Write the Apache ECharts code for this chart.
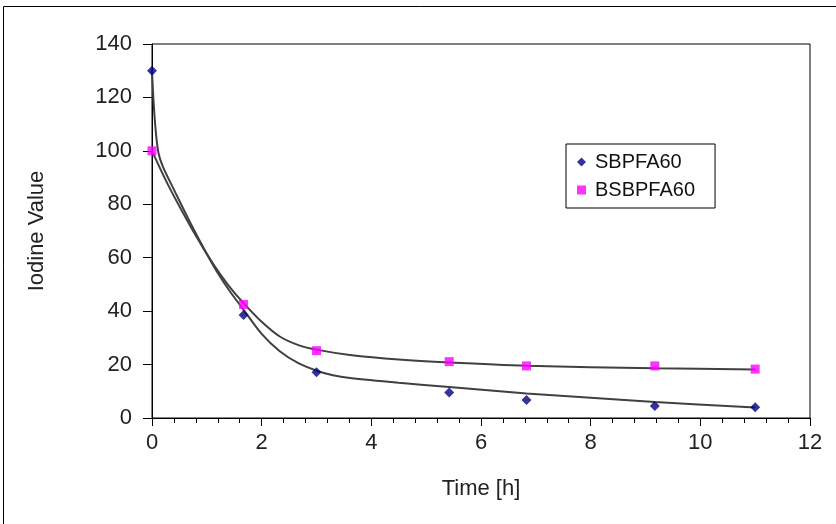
<!DOCTYPE html>
<html>
<head>
<meta charset="utf-8">
<script src="https://cdn.jsdelivr.net/npm/echarts@6/dist/echarts.min.js"></script>
<style>
  html, body { margin: 0; padding: 0; background: #fff; }
  #chart { width: 836px; height: 524px; }
</style>
</head>
<body>
<div id="chart"></div>
<script>
// Measured samples (time in hours)
const timeH = [0, 1.67, 3, 5.42, 6.83, 9.17, 11];
const sbpfa60 = [130, 38.6, 17.1, 9.5, 6.7, 4.5, 4.0];
const bsbpfa60 = [100, 42.5, 25.2, 21.1, 19.5, 19.5, 18.3];

// Trend curves drawn through the samples
const sbTrendTime = [0, 0.03, 0.07, 0.12, 0.2, 0.4, 0.75, 1.12, 1.4, 1.67, 2.0, 2.33, 2.67, 3.03, 3.3, 3.61, 4.5, 5.42, 6.83, 9.17, 11];
const sbTrend = [130, 118, 107, 99, 94, 85.5, 71, 57, 48, 40.5, 31.5, 25, 20.5, 17.5, 16, 15, 13.2, 11.6, 9.2, 6, 3.9];
const bsbTrendTime = [0, 0.3, 0.75, 1.12, 1.4, 1.67, 2.0, 2.33, 2.67, 3.02, 3.61, 4.5, 5.42, 6.83, 9.17, 11];
const bsbTrend = [100, 87, 70, 57.5, 49.5, 43, 36, 30.5, 27.3, 25.5, 23.6, 21.9, 20.8, 19.6, 18.6, 18.2];

const xTicks = [0, 2, 4, 6, 8, 10, 12];
const yTicks = [0, 20, 40, 60, 80, 100, 120, 140];

const pairs = (xs, ys) => xs.map((x, i) => [x, ys[i]]);

const FONT = 'Liberation Sans, Arial, sans-serif';
const chart = echarts.init(document.getElementById('chart'), null, { renderer: 'canvas' });

chart.setOption({
  backgroundColor: '#ffffff',
  animation: false,
  graphic: [{
    type: 'rect',
    shape: { x: 3.5, y: 6.5, width: 1000, height: 1000 },
    style: { fill: 'none', stroke: '#000', lineWidth: 1 },
    silent: true
  }],
  grid: {
    left: 152, right: 26, top: 44, bottom: 106,
    show: true, borderColor: '#000', borderWidth: 1, backgroundColor: 'transparent'
  },
  legend: {
    orient: 'vertical',
    left: 566, top: 144,
    width: 152,
    padding: [8, 20, 8, 11],
    itemGap: 8,
    itemWidth: 9, itemHeight: 9,
    borderColor: '#000', borderWidth: 1,
    backgroundColor: '#fff',
    textStyle: { fontFamily: FONT, fontSize: 20, color: '#111', padding: [0, 0, 0, 4] },
    data: [
      { name: 'SBPFA60', icon: 'diamond' },
      { name: 'BSBPFA60', icon: 'rect' }
    ]
  },
  xAxis: {
    type: 'value',
    min: xTicks[0], max: xTicks[xTicks.length - 1], interval: 2,
    name: 'Time [h]', nameLocation: 'middle', nameGap: 60,
    nameTextStyle: { fontFamily: FONT, fontSize: 22, color: '#222' },
    axisLine: { show: true, lineStyle: { color: '#000', width: 1 } },
    axisTick: { show: true, inside: false, length: 8, lineStyle: { color: '#000' } },
    minorTick: { show: true, splitNumber: 5, length: 5, lineStyle: { color: '#000' } },
    axisLabel: { fontFamily: FONT, fontSize: 22, color: '#222', margin: 14 },
    splitLine: { show: false }
  },
  yAxis: {
    type: 'value',
    min: yTicks[0], max: yTicks[yTicks.length - 1], interval: 20,
    name: 'Iodine Value', nameLocation: 'middle', nameGap: 104, nameRotate: 90,
    nameTextStyle: { fontFamily: FONT, fontSize: 22, color: '#222' },
    axisLine: { show: true, lineStyle: { color: '#000', width: 1 } },
    axisTick: { show: true, inside: false, length: 9, lineStyle: { color: '#000' } },
    axisLabel: { fontFamily: FONT, fontSize: 22, color: '#222', margin: 20 },
    splitLine: { show: false }
  },
  series: [
    {
      name: 'SBPFA60 trend', type: 'line', data: pairs(sbTrendTime, sbTrend),
      smooth: 0.3, showSymbol: false, silent: true, z: 2,
      lineStyle: { color: '#404040', width: 2 }
    },
    {
      name: 'BSBPFA60 trend', type: 'line', data: pairs(bsbTrendTime, bsbTrend),
      smooth: 0.3, showSymbol: false, silent: true, z: 2,
      lineStyle: { color: '#404040', width: 2 }
    },
    {
      name: 'SBPFA60', type: 'scatter', data: pairs(timeH, sbpfa60),
      symbol: 'diamond', symbolSize: [10, 10], z: 5,
      itemStyle: { color: '#000080' }
    },
    {
      name: 'BSBPFA60', type: 'scatter', data: pairs(timeH, bsbpfa60),
      symbol: 'rect', symbolSize: 9, z: 4,
      itemStyle: { color: '#ff00ff' }
    }
  ]
});
</script>
</body>
</html>
